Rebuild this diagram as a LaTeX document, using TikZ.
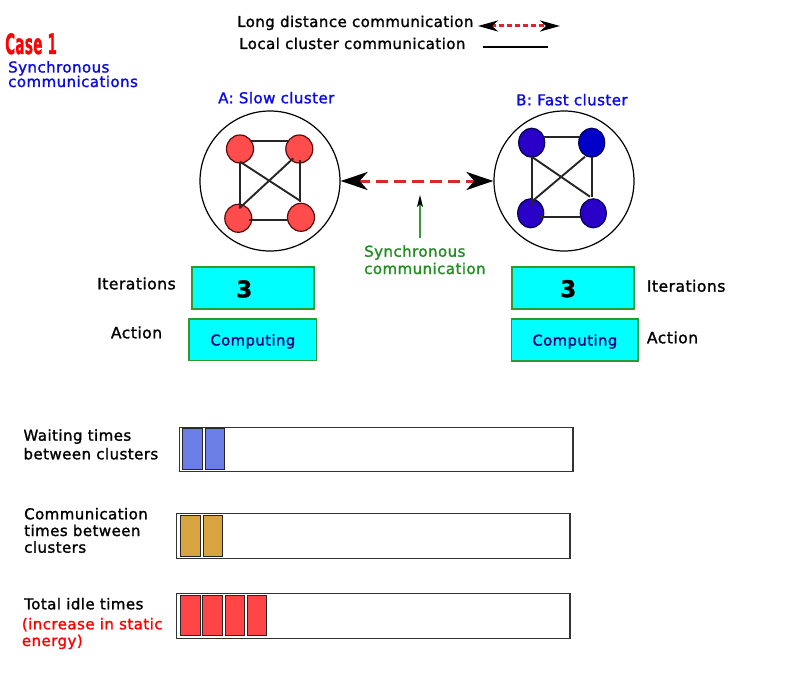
\documentclass[tikz,border=0pt]{standalone}
\usepackage{fontspec}
\setmainfont{DejaVu Sans}[LetterSpace=3, FakeBold=1.4]
\usetikzlibrary{arrows.meta,shapes.geometric}
\definecolor{tblue}{HTML}{0A0AE6}
\definecolor{tred}{HTML}{FF0000}
\definecolor{tgreen}{HTML}{1F8F1F}
\definecolor{agreen}{HTML}{3A9A3A}
\definecolor{navytxt}{HTML}{000080}
\definecolor{nred}{HTML}{FF4D4D}
\definecolor{nredd}{HTML}{5C0A0A}
\definecolor{nblue}{HTML}{2A00C8}
\definecolor{nbluetwo}{HTML}{0000C8}
\definecolor{nblued}{HTML}{000050}
\definecolor{dred}{HTML}{D42A2A}
\definecolor{boxg}{HTML}{2E9A2E}
\definecolor{cyanbox}{RGB}{0,255,255}
\definecolor{wblue}{HTML}{6B7DE6}
\definecolor{corange}{HTML}{D8A440}
\definecolor{ired}{HTML}{FF4545}
\definecolor{edgec}{HTML}{262626}
\begin{document}
\begin{tikzpicture}[x=1pt,y=-1pt,
  txt/.style={inner sep=0pt, anchor=base west, font=\fontsize{15}{17}\selectfont},
  big/.style={txt, font=\fontsize{15.6}{18}\selectfont},
  cl/.style={circle, draw=black, line width=1.2pt, minimum size=140pt, inner sep=0pt},
  rn/.style={ellipse, fill=nred, draw=nredd, line width=1.2pt, minimum width=27pt, minimum height=28pt, inner sep=0pt},
  bn/.style={ellipse, fill=nblue, draw=nblued, line width=1.2pt, minimum width=26pt, minimum height=29pt, inner sep=0pt},
  ed/.style={draw=edgec, line width=1.9pt},
  cbox/.style={rectangle, fill=cyanbox, draw=boxg, line width=1.5pt, inner sep=0pt},
  bar/.style={draw=black!80, line width=1.3pt, fill=white},
  seg/.style={draw=black!85, line width=1pt},
]
\fill[white] (0,0) rectangle (800,698);
\useasboundingbox (0,0) rectangle (800,698);

% legend
\node[txt] (ld) at (237,27) {Long distance communication};
\node[txt] (lc) at (239,49) {Local cluster communication};
\coordinate (la1) at (478,26);
\coordinate (la2) at (560,26);
\draw[dred, line width=3pt, dash pattern=on 5pt off 3pt, {Stealth[black,length=20pt,width=11pt,inset=6pt]}-{Stealth[black,length=20pt,width=11pt,inset=6pt]}] (la1) -- (la2);
\coordinate (ll1) at (483,47);
\coordinate (ll2) at (548,47);
\draw[black, line width=1.4pt] (ll1) -- (ll2);

% title
\node[inner sep=0pt, anchor=base west, text=tred] (case) at (5,54) {\scalebox{0.48}[1]{\fontsize{28}{28}\selectfont\bfseries Case 1}};
\node[txt, text=tblue] (s1) at (8,72.5) {Synchronous};
\node[txt, text=tblue] (s2) at (8,87) {communications};

% clusters
\node[txt, text=tblue] (la) at (218,103.3) {A: Slow cluster};
\node[txt, text=tblue] (lb) at (516,105.3) {B: Fast cluster};
\node[cl] (A) at (270,181) {};
\node[cl] (B) at (564,181) {};

\node[rn] (a1) at (240,149) {};
\node[rn] (a2) at (299.3,149) {};
\node[rn] (a3) at (238.3,218.3) {};
\node[rn] (a4) at (301,217.3) {};
\draw[ed] ([shift={(11,-8)}]a1.center) -- ([shift={(-11.3,-8)}]a2.center);
\draw[ed] ([shift={(0,12.7)}]a1.center) -- ([shift={(1.7,-10.3)}]a3.center);
\draw[ed] ([shift={(0.7,11)}]a2.center) -- ([shift={(-1,-15.6)}]a4.center);
\draw[ed] ([shift={(10.7,1.7)}]a3.center) -- ([shift={(-13,2.7)}]a4.center);
\draw[ed] ([shift={(0,12.7)}]a1.center) -- ([shift={(-1,-16.6)}]a4.center);
\draw[ed] ([shift={(-6,9.3)}]a2.center) -- ([shift={(1,-10)}]a3.center);

\node[bn] (b1) at (531.7,142.7) {};
\node[bn, fill=nbluetwo] (b2) at (591.7,142.7) {};
\node[bn] (b3) at (530.7,213.3) {};
\node[bn] (b4) at (593.3,213.3) {};
\draw[ed] ([shift={(12.3,-6)}]b1.center) -- ([shift={(-12.7,-6)}]b2.center);
\draw[ed] ([shift={(0,15.6)}]b1.center) -- ([shift={(1,-8.3)}]b3.center);
\draw[ed] ([shift={(0.6,14.6)}]b2.center) -- ([shift={(-1,-16.6)}]b4.center);
\draw[ed] ([shift={(9.3,3.4)}]b3.center) -- ([shift={(-13.3,3.4)}]b4.center);
\draw[ed] ([shift={(0,14)}]b1.center) -- ([shift={(-3.3,-16.6)}]b4.center);
\draw[ed] ([shift={(-6.7,14)}]b2.center) -- ([shift={(1,-11.6)}]b3.center);

\draw[dred, line width=3pt, dash pattern=on 12pt off 6pt, {Stealth[black,length=27pt,width=18pt,inset=8pt]}-{Stealth[black,length=27pt,width=18pt,inset=8pt]}] (A) -- (B);

% synchronous communication pointer
\coordinate (gt) at (420,195);
\coordinate (gb) at (420,238);
\draw[agreen, line width=1.3pt, -{Stealth[black,length=12pt,width=6pt,inset=3pt]}] (gb) -- (gt);
\node[txt, text=tgreen] (g1) at (364,256.7) {Synchronous};
\node[txt, text=tgreen] (g2) at (364,274) {communication};

% boxes
\node[cbox, minimum width=122pt, minimum height=42pt] (it1) at (252.85,287.85) {};
\node[inner sep=0pt, font=\fontsize{23}{23}\selectfont\bfseries] (n1) at (244.3,289) {3};
\node[cbox, minimum width=122pt, minimum height=42pt] (it2) at (572.85,287.85) {};
\node[inner sep=0pt, font=\fontsize{23}{23}\selectfont\bfseries] (n2) at (568.3,288.7) {3};
\node[cbox, minimum width=127.7pt, minimum height=41.7pt, text=navytxt, text depth=0pt, font=\fontsize{14.8}{17}\selectfont] (c1) at (252.85,339.85) {Computing};
\node[cbox, minimum width=126.3pt, minimum height=42pt, text=navytxt, text depth=0pt, font=\fontsize{14.8}{17}\selectfont] (c2) at (574.85,340) {Computing};
\node[big] (il) at (97,289.3) {Iterations};
\node[big] (al) at (110.7,338.3) {Action};
\node[big] (ir) at (646.7,291.7) {Iterations};
\node[big] (ar) at (646.7,343.3) {Action};

% waiting
\node[txt] (w1) at (23.3,440.7) {Waiting times};
\node[txt] (w2) at (23.3,459.3) {between clusters};
\draw[bar] (179.3,427.3) rectangle (573,471.7);
\draw[seg, fill=wblue] (182.7,428.3) rectangle (202.7,469.3);
\draw[seg, fill=wblue] (205.7,428.3) rectangle (224.7,469.3);

% communication
\node[txt] (m1) at (24,519.3) {Communication};
\node[txt] (m2) at (24,536) {times between};
\node[txt] (m3) at (24,552.7) {clusters};
\draw[bar] (176.7,513.3) rectangle (570,558.3);
\draw[seg, fill=corange] (180.7,515) rectangle (200,556);
\draw[seg, fill=corange] (203.3,515) rectangle (222.3,556);

% idle
\node[txt] (t1) at (24,609.3) {Total idle times};
\node[txt, text=tred] (t2) at (21.7,629.3) {(increase in static};
\node[txt, text=tred] (t3) at (21.7,646) {energy)};
\draw[bar] (176.7,593.3) rectangle (570,638.3);
\draw[seg, fill=ired] (180.7,595) rectangle (200,635.7);
\draw[seg, fill=ired] (202.7,595) rectangle (222,635.7);
\draw[seg, fill=ired] (225,595) rectangle (244,635.7);
\draw[seg, fill=ired] (247,595) rectangle (266,635.7);
\end{tikzpicture}
\end{document}
